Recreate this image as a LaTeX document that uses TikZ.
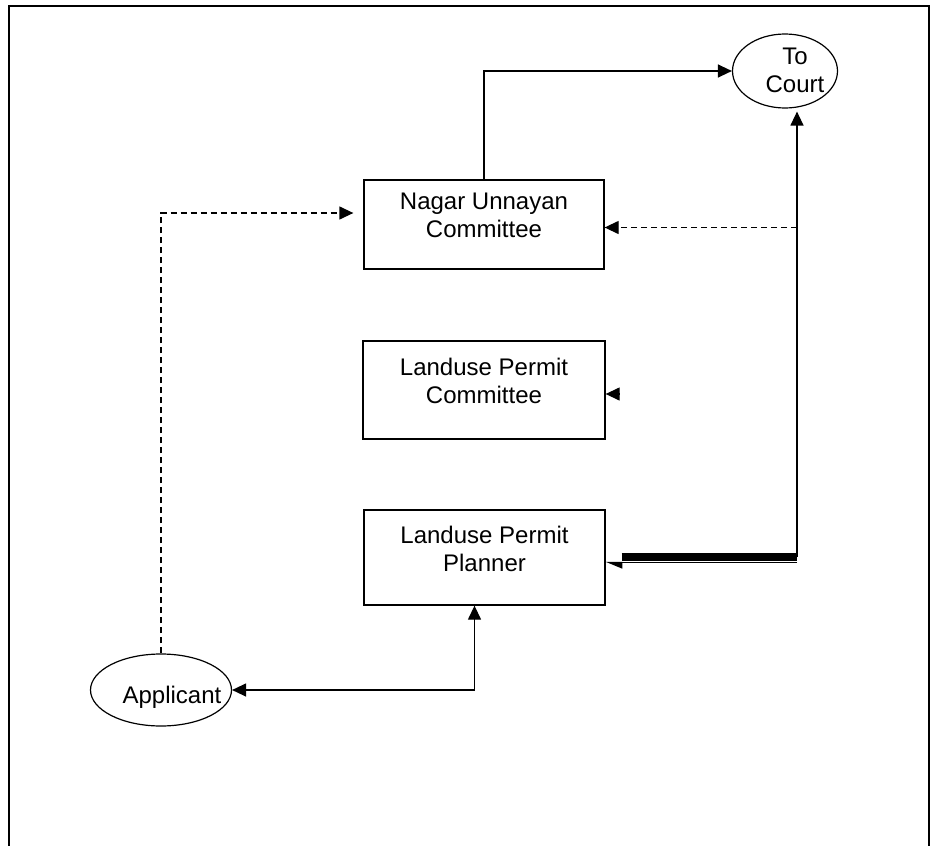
\documentclass[tikz,border=0pt]{standalone}
\usepackage{fontspec}
\setmainfont{Liberation Sans}
\usetikzlibrary{arrows.meta,shapes.geometric}
\begin{document}
\begin{tikzpicture}[x=1pt,y=-1pt,
  txt/.style={font=\fontsize{24}{28}\selectfont},
  stepbox/.style={txt, draw, line width=1.3pt, align=center, inner sep=0pt},
  oval/.style={txt, draw, ellipse, line width=1.2pt, inner sep=0pt},
  conn/.style={line width=1.3pt},
  arr/.style={conn, -{Triangle[length=14pt,width=13pt]}},
  arrtwo/.style={conn, {Triangle[length=14pt,width=13pt]}-{Triangle[length=14pt,width=13pt]}},
  dsh/.style={dash pattern=on 6pt off 4pt}
]
\useasboundingbox (0,0) rectangle (930,846);
% frame
\draw[line width=2pt] (9,846) -- (9,6) -- (930,6);
\draw[line width=1.5pt] (929,6) -- (929,846);

% nodes
\node[stepbox, minimum width=240pt, minimum height=89pt] (nagar) at (484,224.5)
  {Nagar Unnayan\\Committee\rule[-18pt]{0pt}{18pt}};
\node[stepbox, minimum width=242pt, minimum height=98pt] (lpc) at (484,390)
  {Landuse Permit\\Committee\rule[-18pt]{0pt}{18pt}};
\node[stepbox, minimum width=241pt, minimum height=95pt] (planner) at (484.5,557.5)
  {Landuse Permit\\Planner\rule[-18pt]{0pt}{18pt}};
\node[oval, minimum width=105pt, minimum height=74pt] (court) at (785,71)
  {\raisebox{-21pt}[0pt][0pt]{\makebox[0pt]{\hspace*{20pt}\begin{tabular}[b]{@{}c@{}}To\\Court\end{tabular}}}};
\node[oval, minimum width=141pt, minimum height=72pt] (app) at (161,690)
  {\raisebox{-13pt}[0pt][0pt]{\makebox[0pt]{\hspace*{22pt}Applicant}}};

% coordinates
\coordinate (rc) at (797,557);
\coordinate (bs) at ([xshift=16pt]planner.east);
\coordinate (nr) at ([yshift=-3pt]nagar.east);
\coordinate (nl) at ([xshift=-10pt,yshift=11.5pt]nagar.west);
\coordinate (ce) at ([yshift=-4pt]lpc.east);
\coordinate (pl) at ([yshift=-5pt]planner.east);

% connectors
\draw[arr] (nagar.north) |- (court.west);
\draw[arr, shorten >=3pt] (rc) -- (rc |- court.south);
\draw[line width=8pt] (bs |- rc) -- (rc);
\draw[conn, -{Triangle[length=15pt,width=12pt,left]}] (rc |- pl) -- (pl);
\draw[arr, dsh] (rc |- nr) -- (nr);
\draw[arr, dsh] (app.north) |- (nl);
\draw[arr] ([xshift=14pt]ce) -- (ce);
\draw[arrtwo] (app.east) -| ([xshift=-10pt]planner.south);
\end{tikzpicture}
\end{document}
